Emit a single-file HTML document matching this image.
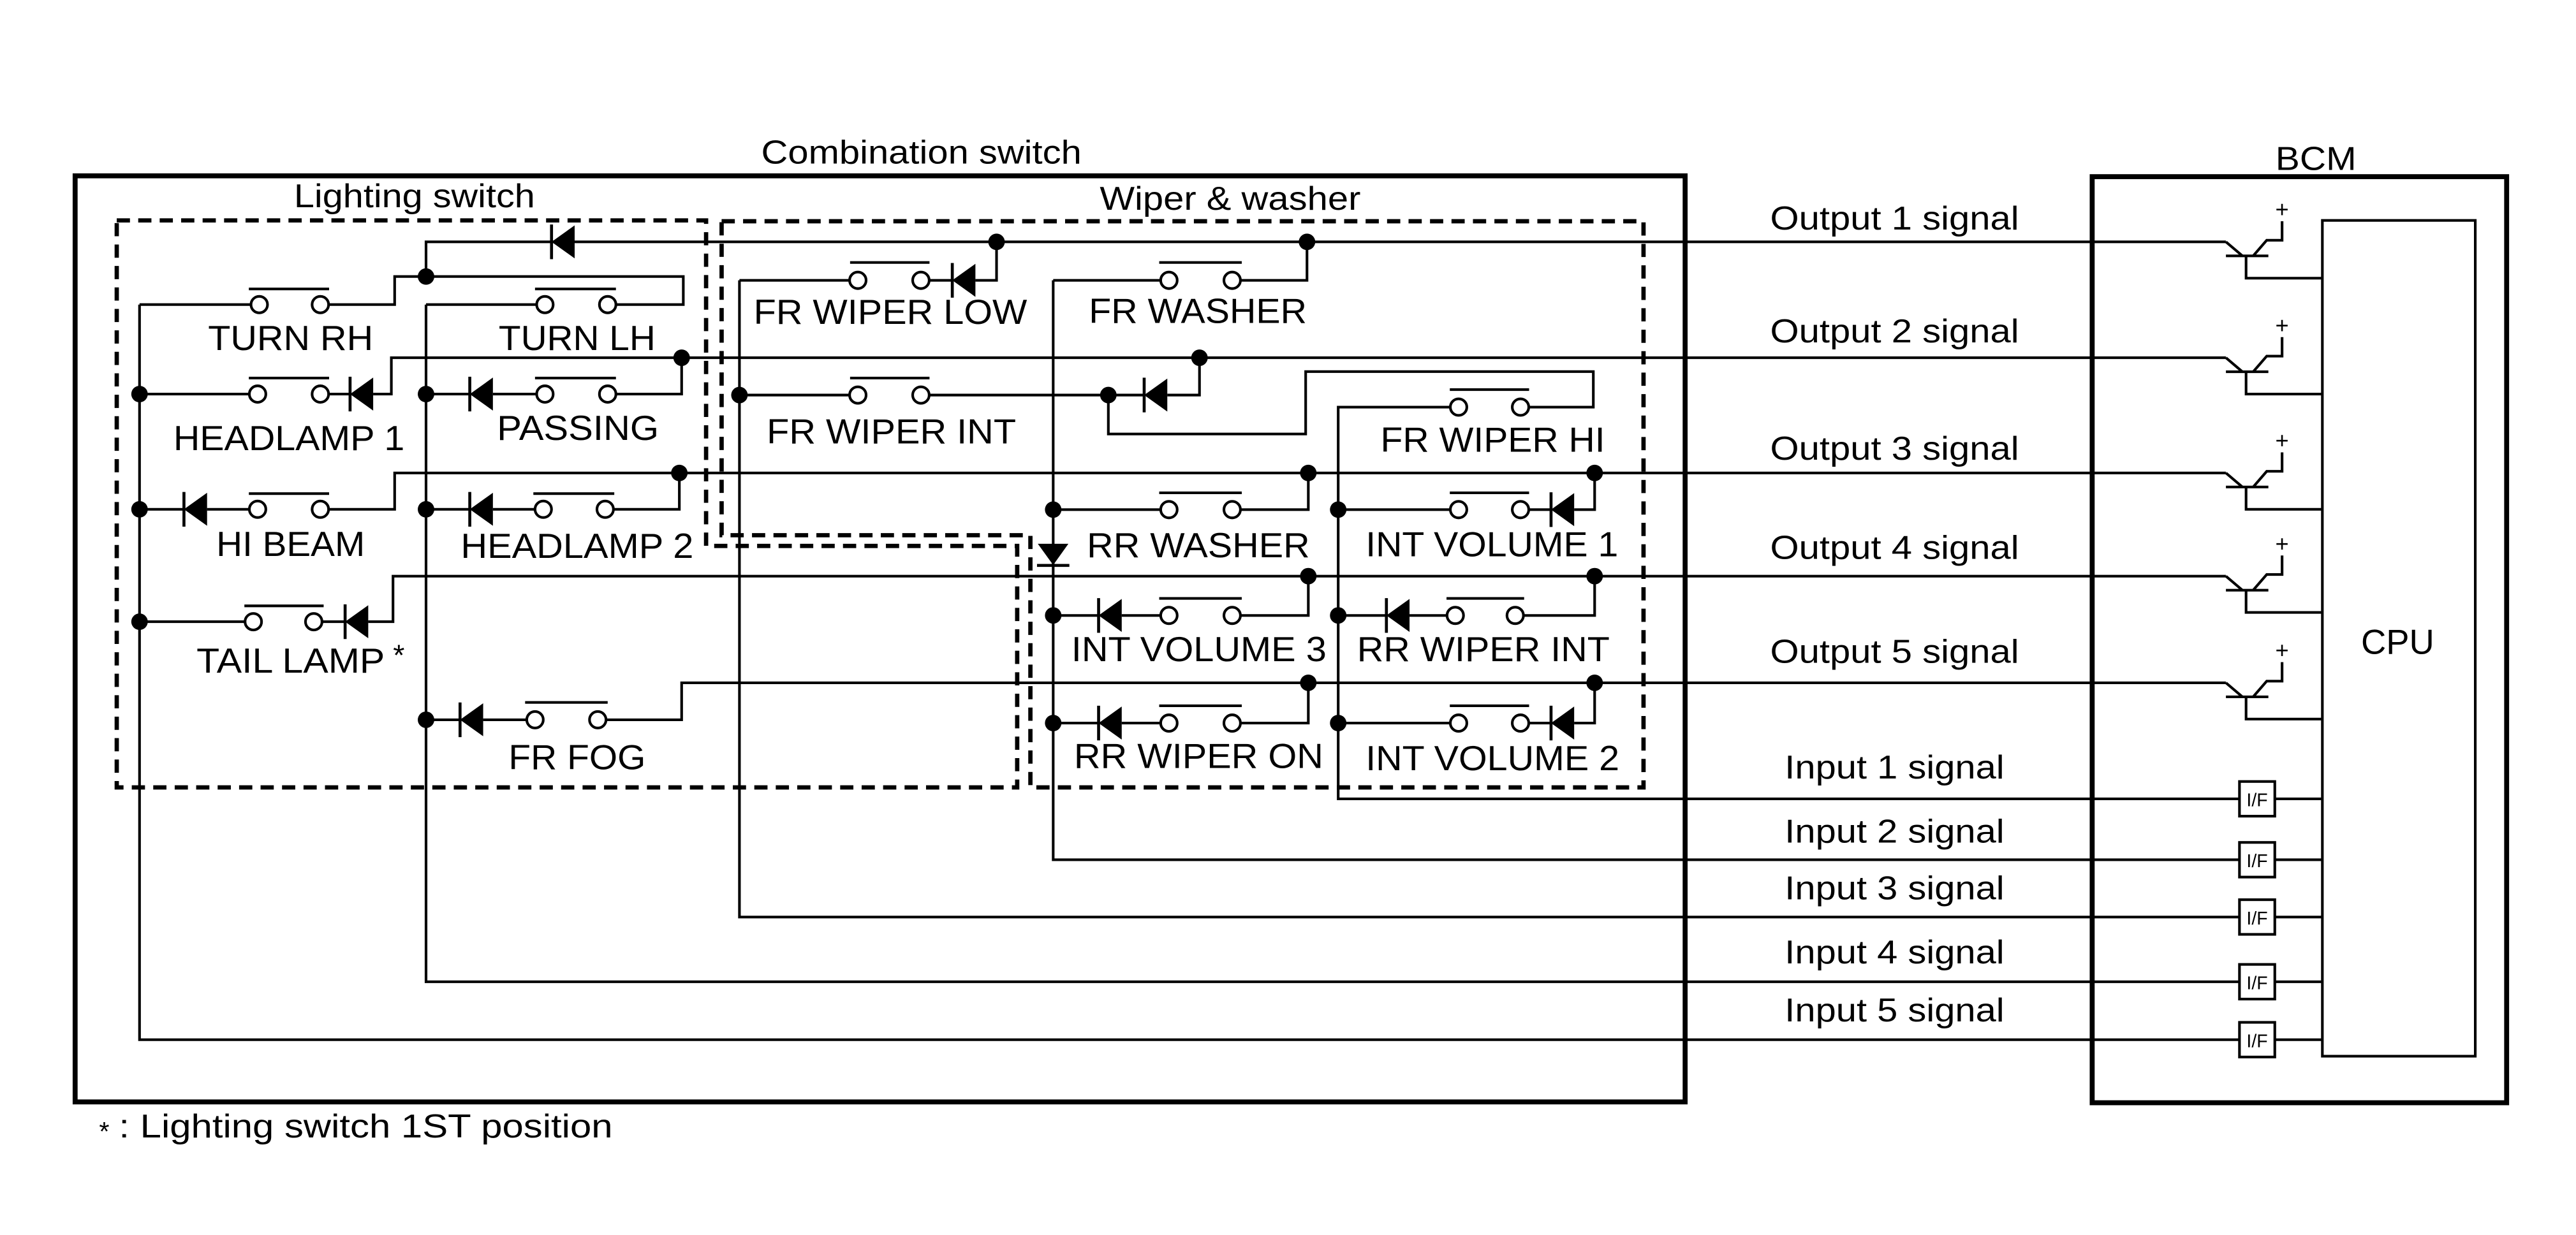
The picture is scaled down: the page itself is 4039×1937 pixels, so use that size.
<!DOCTYPE html>
<html><head><meta charset="utf-8"><style>
html,body{margin:0;padding:0;background:#fff;}
svg{display:block;}
text{font-family:"Liberation Sans",Arial,sans-serif;fill:#000;}
</style></head><body>
<svg width="4039" height="1937" viewBox="0 0 1560 748.1" xmlns="http://www.w3.org/2000/svg">
<defs>
<g id="dl"><polygon points="0,0 14,-10 14,10" fill="#000"/><line x1="0" y1="-10.5" x2="0" y2="10.5" stroke="#000" stroke-width="1.8"/></g>
<g id="tr" fill="none" stroke="#000" stroke-width="1.6">
<path d="M1348 0 L1358 8.5 M1348 8.5 H1373.7 M1364.5 8.5 L1372.7 -1 H1382 V-12.5 M1360.2 8.5 V22 H1406.4"/>
</g>
<g id="if"><rect x="1356.2" y="-10.5" width="21.4" height="21" fill="#fff" stroke="#000" stroke-width="1.6"/><text x="1366.9" y="4.5" font-size="11" text-anchor="middle">I/F</text><line x1="1377.6" y1="0" x2="1406.4" y2="0" stroke="#000" stroke-width="1.6"/></g>
</defs>
<rect x="0" y="0" width="1560" height="748.1" fill="#fff"/>

<!-- boxes -->
<rect x="45.5" y="106.5" width="975" height="561" fill="none" stroke="#000" stroke-width="3"/>
<rect x="1267" y="107" width="251" height="561" fill="none" stroke="#000" stroke-width="3"/>
<rect x="1406.4" y="133.5" width="92.6" height="506.3" fill="none" stroke="#000" stroke-width="1.6"/>

<!-- dashed boxes -->
<path d="M70.7 133.5 H427.6 V330.7 H616 V477 H70.7 Z" fill="none" stroke="#000" stroke-width="2.6" stroke-dasharray="8,5"/>
<path d="M437 134 H995.3 V477 H624 V324.2 H437 Z" fill="none" stroke="#000" stroke-width="2.6" stroke-dasharray="8,5"/>

<!-- wires -->
<g fill="none" stroke="#000" stroke-width="1.6">
<path d="M84.5 184.5 V629.8 H1356.2"/>
<path d="M258 184.5 V594.7 H1356.2"/>
<path d="M258 167.5 V146.5 H1348"/>
<path d="M84.5 184.5 H152 M199 184.5 H239 V167.5 H413.8 V184.5 H373 M258 184.5 H325"/>
<path d="M84.5 238.7 H151 M199 238.7 H212 M226 238.7 H237 V216.7 H1348"/>
<path d="M258 238.7 H284.5 M298.5 238.7 H325 M373 238.7 H412.8 V216.7"/>
<path d="M84.5 308.5 H111.4 M125.4 308.5 H151 M199 308.5 H239 V286.5 H1348"/>
<path d="M258 308.5 H284.5 M298.5 308.5 H324 M371.5 308.5 H411.4 V286.5"/>
<path d="M84.5 376.6 H148.4 M195 376.6 H209 M223 376.6 H238 V349 H1348"/>
<path d="M258 436 H278.6 M292.6 436 H319 M367 436 H412.8 V413.6 H1348"/>
<!-- wiper -->
<path d="M447.8 169.8 H514.5 M562.7 169.8 H576.7 M590.7 169.8 H603.5 V146.5"/>
<path d="M447.8 169.8 V555.5 H1356.2"/>
<path d="M637.8 169.8 H702.9 M751.2 169.8 H791.5 V146.5"/>
<path d="M637.8 169.8 V520.8 H1356.2"/>
<path d="M447.8 239.3 H514.5 M562.7 239.3 H692.9 M706.9 239.3 H726.4 V216.7"/>
<path d="M671.2 239.3 V262.9 H790.7 V225.1 H964.9 V246.6 H925.8 M878.3 246.6 H810.4 V483.9 H1356.2"/>
<path d="M637.8 308.7 H702.9 M751.2 308.7 H792.3 V286.5"/>
<path d="M810.4 308.7 H878.3 M925.8 308.7 H939.3 M953.3 308.7 H965.7 V286.5"/>
<path d="M637.8 372.8 H665.3 M679.3 372.8 H702.9 M751.2 372.8 H792.3 V349"/>
<path d="M810.4 372.8 H839.6 M853.6 372.8 H876.3 M922.6 372.8 H965.7 V349"/>
<path d="M637.8 438 H665.3 M679.3 438 H702.9 M751.2 438 H792.3 V413.6"/>
<path d="M810.4 438 H878.3 M925.8 438 H939.3 M953.3 438 H965.7 V413.6"/>
</g>

<!-- switch contacts -->
<g fill="#fff" stroke="#000" stroke-width="1.6">
<circle cx="157" cy="184.5" r="5"/><circle cx="194" cy="184.5" r="5"/>
<circle cx="330" cy="184.5" r="5"/><circle cx="368" cy="184.5" r="5"/>
<circle cx="156" cy="238.7" r="5"/><circle cx="194" cy="238.7" r="5"/>
<circle cx="330" cy="238.7" r="5"/><circle cx="368" cy="238.7" r="5"/>
<circle cx="156" cy="308.5" r="5"/><circle cx="194" cy="308.5" r="5"/>
<circle cx="329" cy="308.5" r="5"/><circle cx="366.5" cy="308.5" r="5"/>
<circle cx="153.4" cy="376.6" r="5"/><circle cx="190" cy="376.6" r="5"/>
<circle cx="324" cy="436" r="5"/><circle cx="362" cy="436" r="5"/>
<circle cx="519.5" cy="169.8" r="5"/><circle cx="557.7" cy="169.8" r="5"/>
<circle cx="707.9" cy="169.8" r="5"/><circle cx="746.2" cy="169.8" r="5"/>
<circle cx="519.5" cy="239.3" r="5"/><circle cx="557.7" cy="239.3" r="5"/>
<circle cx="883.3" cy="246.6" r="5"/><circle cx="920.8" cy="246.6" r="5"/>
<circle cx="707.9" cy="308.7" r="5"/><circle cx="746.2" cy="308.7" r="5"/>
<circle cx="883.3" cy="308.7" r="5"/><circle cx="920.8" cy="308.7" r="5"/>
<circle cx="707.9" cy="372.8" r="5"/><circle cx="746.2" cy="372.8" r="5"/>
<circle cx="881.3" cy="372.8" r="5"/><circle cx="917.6" cy="372.8" r="5"/>
<circle cx="707.9" cy="438" r="5"/><circle cx="746.2" cy="438" r="5"/>
<circle cx="883.3" cy="438" r="5"/><circle cx="920.8" cy="438" r="5"/>
</g>
<!-- switch bars -->
<g stroke="#000" stroke-width="1.6">
<line x1="150.7" y1="175" x2="199.3" y2="175"/>
<line x1="324" y1="175" x2="373" y2="175"/>
<line x1="150.7" y1="229" x2="199.3" y2="229"/>
<line x1="324" y1="229" x2="373" y2="229"/>
<line x1="150.7" y1="299" x2="199.3" y2="299"/>
<line x1="323" y1="299" x2="372" y2="299"/>
<line x1="148" y1="367" x2="196" y2="367"/>
<line x1="318" y1="425.5" x2="368" y2="425.5"/>
<line x1="514.8" y1="159" x2="562.9" y2="159"/>
<line x1="702" y1="159" x2="752" y2="159"/>
<line x1="514.8" y1="229" x2="562.9" y2="229"/>
<line x1="878" y1="236" x2="926" y2="236"/>
<line x1="702" y1="298.5" x2="752" y2="298.5"/>
<line x1="878" y1="298.5" x2="926" y2="298.5"/>
<line x1="702" y1="362.5" x2="752" y2="362.5"/>
<line x1="876" y1="362.5" x2="923" y2="362.5"/>
<line x1="702" y1="427.5" x2="752" y2="427.5"/>
<line x1="878" y1="427.5" x2="926" y2="427.5"/>
</g>

<!-- diodes (pointing left) -->
<use href="#dl" x="334" y="146.5"/>
<use href="#dl" x="212" y="238.7"/>
<use href="#dl" x="284.5" y="238.7"/>
<use href="#dl" x="111.4" y="308.5"/>
<use href="#dl" x="284.5" y="308.5"/>
<use href="#dl" x="209" y="376.6"/>
<use href="#dl" x="278.6" y="436"/>
<use href="#dl" x="576.7" y="169.8"/>
<use href="#dl" x="692.9" y="239.3"/>
<use href="#dl" x="939.3" y="308.7"/>
<use href="#dl" x="665.3" y="372.8"/>
<use href="#dl" x="839.6" y="372.8"/>
<use href="#dl" x="665.3" y="438"/>
<use href="#dl" x="939.3" y="438"/>
<!-- downward diode -->
<polygon points="628.5,329.4 647,329.4 637.8,342.3" fill="#000"/>
<line x1="628" y1="342.5" x2="647.6" y2="342.5" stroke="#000" stroke-width="1.8"/>

<!-- junction dots -->
<g fill="#000">
<circle cx="258" cy="167.5" r="5"/><circle cx="84.5" cy="238.7" r="5"/><circle cx="258" cy="238.7" r="5"/>
<circle cx="412.8" cy="216.7" r="5"/><circle cx="84.5" cy="308.5" r="5"/><circle cx="258" cy="308.5" r="5"/>
<circle cx="411.4" cy="286.5" r="5"/><circle cx="84.5" cy="376.6" r="5"/><circle cx="258" cy="436" r="5"/>
<circle cx="603.5" cy="146.5" r="5"/><circle cx="791.5" cy="146.5" r="5"/><circle cx="726.4" cy="216.7" r="5"/>
<circle cx="447.8" cy="239.3" r="5"/><circle cx="671.2" cy="239.3" r="5"/>
<circle cx="792.3" cy="286.5" r="5"/><circle cx="965.7" cy="286.5" r="5"/>
<circle cx="637.8" cy="308.7" r="5"/><circle cx="810.4" cy="308.7" r="5"/>
<circle cx="792.3" cy="349" r="5"/><circle cx="965.7" cy="349" r="5"/>
<circle cx="637.8" cy="372.8" r="5"/><circle cx="810.4" cy="372.8" r="5"/>
<circle cx="792.3" cy="413.6" r="5"/><circle cx="965.7" cy="413.6" r="5"/>
<circle cx="637.8" cy="438" r="5"/><circle cx="810.4" cy="438" r="5"/>
</g>

<!-- BCM transistors & I/F -->
<use href="#tr" y="146.5"/><use href="#tr" y="216.7"/><use href="#tr" y="286.5"/><use href="#tr" y="349"/><use href="#tr" y="413.6"/>
<g font-size="14" text-anchor="middle">
<text x="1382" y="131.5">+</text><text x="1382" y="201.7">+</text><text x="1382" y="271.5">+</text><text x="1382" y="334">+</text><text x="1382" y="398.6">+</text>
</g>
<use href="#if" y="483.9"/><use href="#if" y="520.8"/><use href="#if" y="555.5"/><use href="#if" y="594.7"/><use href="#if" y="629.8"/>

<!-- labels -->
<g font-size="21" lengthAdjust="spacingAndGlyphs">
<text x="126" y="212" textLength="100" lengthAdjust="spacingAndGlyphs">TURN RH</text>
<text x="302" y="212" textLength="95" lengthAdjust="spacingAndGlyphs">TURN LH</text>
<text x="105" y="272.7" textLength="140" lengthAdjust="spacingAndGlyphs">HEADLAMP 1</text>
<text x="301" y="266.5" textLength="98" lengthAdjust="spacingAndGlyphs">PASSING</text>
<text x="131" y="336.7" textLength="90" lengthAdjust="spacingAndGlyphs">HI BEAM</text>
<text x="279" y="338" textLength="141" lengthAdjust="spacingAndGlyphs">HEADLAMP 2</text>
<text x="119" y="407.5" textLength="114" lengthAdjust="spacingAndGlyphs">TAIL LAMP</text>
<text x="238" y="403" font-size="18">*</text>
<text x="308" y="466" textLength="83" lengthAdjust="spacingAndGlyphs">FR FOG</text>
<text x="456.4" y="196.2" textLength="165.6" lengthAdjust="spacingAndGlyphs">FR WIPER LOW</text>
<text x="659.4" y="195.6" textLength="132" lengthAdjust="spacingAndGlyphs">FR WASHER</text>
<text x="464.3" y="268.6" textLength="151" lengthAdjust="spacingAndGlyphs">FR WIPER INT</text>
<text x="836" y="273.7" textLength="136" lengthAdjust="spacingAndGlyphs">FR WIPER HI</text>
<text x="658.2" y="337.6" textLength="135" lengthAdjust="spacingAndGlyphs">RR WASHER</text>
<text x="827" y="337" textLength="153" lengthAdjust="spacingAndGlyphs">INT VOLUME 1</text>
<text x="648.8" y="400.5" textLength="154.5" lengthAdjust="spacingAndGlyphs">INT VOLUME 3</text>
<text x="821.8" y="400.5" textLength="153" lengthAdjust="spacingAndGlyphs">RR WIPER INT</text>
<text x="650.4" y="465.2" textLength="151" lengthAdjust="spacingAndGlyphs">RR WIPER ON</text>
<text x="827" y="466.5" textLength="153.7" lengthAdjust="spacingAndGlyphs">INT VOLUME 2</text>
</g>
<g font-size="20">
<text x="178" y="125.6" textLength="146" lengthAdjust="spacingAndGlyphs">Lighting switch</text>
<text x="666" y="127" textLength="158" lengthAdjust="spacingAndGlyphs">Wiper &amp; washer</text>
<text x="461" y="99" textLength="194" lengthAdjust="spacingAndGlyphs">Combination switch</text>
<text x="1378" y="103" textLength="49" lengthAdjust="spacingAndGlyphs">BCM</text>
<text x="1452" y="396" font-size="21" text-anchor="middle">CPU</text>
<text x="60" y="691" font-size="16">*</text>
<text x="72" y="689" textLength="299" lengthAdjust="spacingAndGlyphs">: Lighting switch 1ST position</text>
</g>
<g font-size="20">
<text x="1072" y="139" textLength="150.7" lengthAdjust="spacingAndGlyphs">Output 1 signal</text>
<text x="1072" y="207.4" textLength="150.7" lengthAdjust="spacingAndGlyphs">Output 2 signal</text>
<text x="1072" y="278.4" textLength="150.7" lengthAdjust="spacingAndGlyphs">Output 3 signal</text>
<text x="1072" y="338.6" textLength="150.7" lengthAdjust="spacingAndGlyphs">Output 4 signal</text>
<text x="1072" y="401.4" textLength="150.7" lengthAdjust="spacingAndGlyphs">Output 5 signal</text>
<text x="1080.8" y="471.6" textLength="133" lengthAdjust="spacingAndGlyphs">Input 1 signal</text>
<text x="1080.8" y="510.4" textLength="133" lengthAdjust="spacingAndGlyphs">Input 2 signal</text>
<text x="1080.8" y="544.8" textLength="133" lengthAdjust="spacingAndGlyphs">Input 3 signal</text>
<text x="1080.8" y="583.6" textLength="133" lengthAdjust="spacingAndGlyphs">Input 4 signal</text>
<text x="1080.8" y="618.7" textLength="133" lengthAdjust="spacingAndGlyphs">Input 5 signal</text>
</g>
</svg>
</body></html>
